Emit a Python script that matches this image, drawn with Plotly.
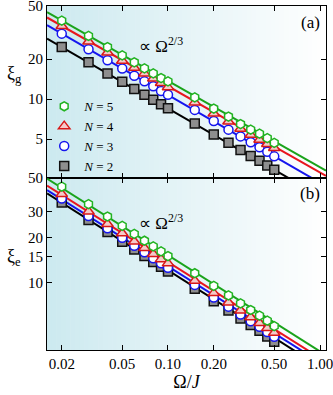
import plotly.graph_objects as go
from plotly.subplots import make_subplots

# Omega / J sample points
omega = [0.02, 0.03, 0.04, 0.05, 0.06, 0.07, 0.08, 0.09, 0.10,
         0.15, 0.20, 0.25, 0.30, 0.35, 0.40, 0.45, 0.50]

# panel (a): xi_g
xig_n5 = [38.8, 29.8, 24.6, 21.3, 18.9, 17.0, 15.6, 14.4, 13.6, 10.3, 8.5, 7.4, 6.5, 5.9, 5.5, 5.1, 4.7]
xig_n4 = [35.4, 27.1, 22.4, 19.4, 17.2, 15.6, 14.3, 13.2, 12.3, 9.45, 7.8, 6.8, 6.0, 5.4, 4.95, 4.6, 4.3]
xig_n3 = [31.0, 23.7, 19.6, 17.0, 15.0, 13.6, 12.5, 11.5, 10.8, 8.3, 6.85, 5.9, 5.25, 4.75, 4.35, 4.03, 3.72]
xig_n2 = [24.6, 18.9, 15.6, 13.5, 11.9, 10.8, 9.9, 9.15, 8.55, 6.55, 5.42, 4.7, 4.15, 3.75, 3.45, 3.18, 2.95]

# panel (b): xi_e
xie_n5 = [43.8, 33.5, 27.7, 24.0, 21.2, 19.1, 17.5, 16.2, 15.1, 11.6, 9.55, 8.25, 7.3, 6.6, 6.05, 5.6, 5.15]
xie_n4 = [39.1, 29.9, 24.7, 21.4, 18.9, 17.1, 15.6, 14.4, 13.5, 10.35, 8.55, 7.4, 6.55, 5.9, 5.4, 5.0, 4.65]
xie_n3 = [36.5, 27.9, 23.1, 20.0, 17.7, 16.0, 14.6, 13.5, 12.6, 9.7, 8.0, 6.95, 6.15, 5.55, 5.1, 4.7, 4.37]
xie_n2 = [34.4, 26.3, 21.8, 18.8, 16.7, 15.1, 13.8, 12.8, 11.9, 9.15, 7.55, 6.55, 5.8, 5.25, 4.8, 4.4, 4.05]

# power-law fit lines (end points)
fit_x = [0.016, 1.095]
fitg = {5: [45.0, 2.9], 4: [41.0, 2.65], 3: [35.9, 2.22], 2: [28.5, 1.76]}
fite = {5: [49.5, 3.3], 4: [44.5, 2.98], 3: [41.5, 2.8], 2: [39.5, 2.6]}

xtick_vals = [0.02, 0.05, 0.1, 0.2, 0.5, 1.0]
xtick_text = ["0.02", "0.05", "0.10", "0.20", "0.50", "1.00"]

FONT = "Liberation Serif, Times New Roman, serif"

styles = {
    5: dict(line="#1aa31a", symbol="hexagon", fill="#ffffff", edge="#22b322", size=9),
    4: dict(line="#e8161e", symbol="triangle-up", fill="#f6c9c9", edge="#d81818", size=10),
    3: dict(line="#1515ee", symbol="circle", fill="#ffffff", edge="#1515ee", size=9),
    2: dict(line="#000000", symbol="square", fill="#8e8e8e", edge="#111111", size=9),
}

fig = make_subplots(rows=2, cols=1, shared_xaxes=True, vertical_spacing=0)

# background gradient (light cyan on the left fading to white)
nstrip = 60
for i in range(nstrip):
    t = i / (nstrip - 1)
    r = int(205 + (255 - 205) * t)
    g = int(234 + (255 - 234) * t)
    b = int(240 + (255 - 240) * t)
    fig.add_shape(type="rect", xref="paper", yref="paper",
                  x0=i / nstrip, x1=(i + 1) / nstrip + 0.002, y0=0, y1=1,
                  fillcolor=f"rgb({r},{g},{b})", line_width=0, layer="below")

panels = [
    (1, fitg, {5: xig_n5, 4: xig_n4, 3: xig_n3, 2: xig_n2}),
    (2, fite, {5: xie_n5, 4: xie_n4, 3: xie_n3, 2: xie_n2}),
]

for row, fits, data in panels:
    for n in [2, 3, 4, 5]:
        st = styles[n]
        fig.add_trace(go.Scatter(x=fit_x, y=fits[n], mode="lines",
                                 line=dict(color=st["line"], width=2),
                                 showlegend=False, hoverinfo="skip"),
                      row=row, col=1)
    for n in [2, 3, 4, 5]:
        st = styles[n]
        fig.add_trace(go.Scatter(x=omega, y=data[n], mode="markers",
                                 name=f"<i>N</i> = {n}",
                                 legendrank=10 - n,
                                 showlegend=(row == 1),
                                 marker=dict(symbol=st["symbol"], size=st["size"],
                                             color=st["fill"],
                                             line=dict(color=st["edge"], width=1.5))),
                      row=row, col=1)

axis_common = dict(type="log", showline=True, linecolor="black", linewidth=1,
                   mirror="ticks", ticks="inside", ticklen=5, tickcolor="black",
                   showgrid=False, zeroline=False, automargin=False,
                   ticklabeloverflow="allow",
                   tickfont=dict(family=FONT, size=15, color="black"))

fig.update_xaxes(range=[-1.796, 0.0395], tickvals=xtick_vals, ticktext=xtick_text,
                 **axis_common)
fig.update_xaxes(showticklabels=False, row=1, col=1)
fig.update_xaxes(title=dict(text="Ω/<i>J</i>", font=dict(family=FONT, size=18, color="black"),
                            standoff=0), row=2, col=1)

fig.update_yaxes(range=[0.408, 1.699], tickvals=[5, 10, 20, 50],
                 ticktext=["5", "10", "20", "50"], row=1, col=1, **axis_common)
fig.update_yaxes(range=[0.553, 1.699], tickvals=[10, 15, 20, 30, 50],
                 ticktext=["10", "15", "20", "30", "50"], row=2, col=1, **axis_common)

ann = []
ann.append(dict(text="ξ<sub>g</sub>", xref="paper", yref="paper", x=-0.118, y=0.80,
                xanchor="center", yanchor="middle",
                showarrow=False, font=dict(family=FONT, size=18, color="black")))
ann.append(dict(text="ξ<sub>e</sub>", xref="paper", yref="paper", x=-0.118, y=0.27,
                xanchor="center", yanchor="middle",
                showarrow=False, font=dict(family=FONT, size=18, color="black")))
ann.append(dict(text="∝ Ω<sup>2/3</sup>", xref="paper", yref="paper", x=0.41, y=0.925,
                showarrow=False, font=dict(family=FONT, size=17, color="black")))
ann.append(dict(text="∝ Ω<sup>2/3</sup>", xref="paper", yref="paper", x=0.41, y=0.372,
                showarrow=False, font=dict(family=FONT, size=17, color="black")))
ann.append(dict(text="(a)", xref="paper", yref="paper", x=0.985, y=0.985,
                xanchor="right", yanchor="top", showarrow=False,
                font=dict(family=FONT, size=17, color="black")))
ann.append(dict(text="(b)", xref="paper", yref="paper", x=0.985, y=0.487,
                xanchor="right", yanchor="top", showarrow=False,
                font=dict(family=FONT, size=17, color="black")))

fig.update_layout(
    template="none",
    width=333, height=395,
    margin=dict(l=47, r=7, t=6, b=45),
    paper_bgcolor="white", plot_bgcolor="white",
    font=dict(family=FONT, size=15, color="black"),
    annotations=ann,
    legend=dict(x=-0.01, y=0.752, xanchor="left", yanchor="top",
                bgcolor="rgba(0,0,0,0)", itemwidth=30,
                font=dict(family=FONT, size=13, color="black"),
                tracegroupgap=0),
)

fig.write_html("out.html", config={"displayModeBar": False},
               post_script="document.body.style.margin='0';")
